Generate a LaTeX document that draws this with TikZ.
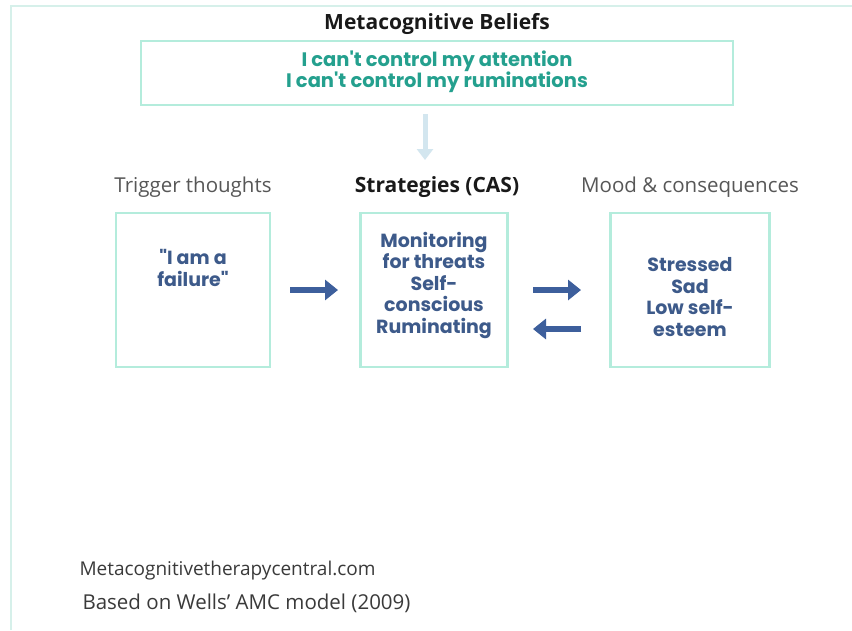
\documentclass[tikz,border=0pt]{standalone}
\usepackage{fontspec}
\setmainfont{Open Sans}
\newfontfamily\boxfont{Poppins}
\usetikzlibrary{arrows.meta}
\definecolor{mint}{HTML}{B4ECDC}
\definecolor{tealtxt}{HTML}{24A08E}
\definecolor{navytxt}{HTML}{3D5A8A}
\definecolor{arrowblue}{HTML}{3D5F9C}
\definecolor{paleblue}{HTML}{D3E6EF}
\definecolor{frame}{HTML}{D6F0EA}
\definecolor{graytxt}{HTML}{3A3A3A}
\tikzset{
  x=1pt, y=-1pt,
  panel/.style={draw=mint, line width=2.6pt},
  bluetxt/.style={font=\boxfont\bfseries\fontsize{19}{21.5}\selectfont, text=navytxt, align=center},
  label/.style={font=\fontsize{20.5}{22}\selectfont, text=graytxt!85!white},
  blabel/.style={font=\bfseries\fontsize{21}{22}\selectfont, text=black!90},
  flow/.style={draw=arrowblue, line width=5.5pt, -{Triangle[length=13pt,width=20pt]}},
  down/.style={draw=paleblue, line width=5pt, -{Triangle[length=11pt,width=16pt]}},
  foot/.style={font=\fontsize{19}{21}\selectfont, text=graytxt, anchor=west}
}
\begin{document}
\begin{tikzpicture}
\useasboundingbox (0,0) rectangle (852,630);
\fill[white] (0,0) rectangle (852,630);
% faint frame
\draw[frame, line width=1.5pt] (11,630) -- (11,6) -- (852,6);
% top
\node[blabel] (mbtitle) at (437,24) {Metacognitive Beliefs};
\draw[panel] (141,41) rectangle (733,105);
\node[font=\boxfont\bfseries\fontsize{19.5}{21}\selectfont, text=tealtxt, align=center] (mb) at (437,72) {I can't control my attention\\I can't control my ruminations};
\coordinate (dstart) at (425,114);
\coordinate (dend) at (425,160);
\draw[down] (dstart) -- (dend);
% labels
\node[label] (lt) at (193,187) {Trigger thoughts};
\node[blabel] (lm) at (437,187) {Strategies (CAS)};
\node[label] (lr) at (690,187) {Mood \& consequences};
% boxes
\node[panel, minimum width=154pt, minimum height=154pt] (bl) at (193,290) {};
\node[panel, minimum width=147pt, minimum height=154pt] (bm) at (434,290) {};
\node[panel, minimum width=159pt, minimum height=154pt] (br) at (690,290) {};
\node[bluetxt] (tl) at (193,268) {"I am a\\failure"};
\node[bluetxt] (tm) at (434,285) {Monitoring\\for threats\\Self-\\conscious\\Ruminating};
\node[bluetxt] (tr) at (690,297) {Stressed\\Sad\\Low self-\\esteem};
% arrows
\coordinate (a1s) at (290,290); \coordinate (a1e) at (338,290);
\coordinate (a2s) at (533,290); \coordinate (a2e) at (581,290);
\coordinate (a3s) at (581,329); \coordinate (a3e) at (533,329);
\draw[flow] (a1s) -- (a1e);
\draw[flow] (a2s) -- (a2e);
\draw[flow] (a3s) -- (a3e);
% footer
\node[foot] (f1) at (76,571) {Metacognitivetherapycentral.com};
\node[foot, font=\fontsize{20.5}{22}\selectfont] (f2) at (79,603) {Based on Wells' AMC model (2009)};
\end{tikzpicture}
\end{document}
